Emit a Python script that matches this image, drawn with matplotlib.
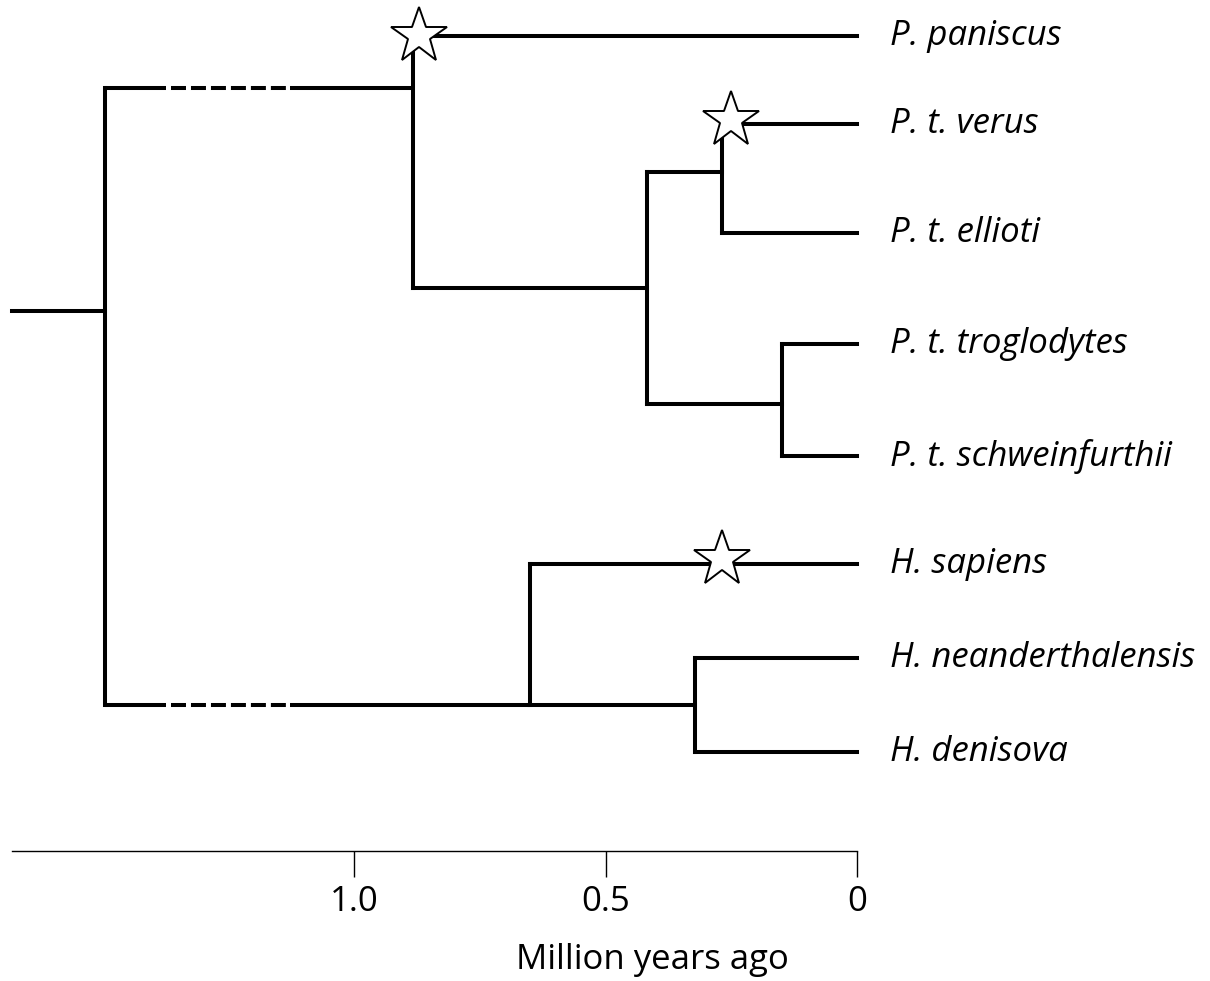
import matplotlib
matplotlib.use('Agg')
import matplotlib.pyplot as plt

# tips (top to bottom), y in picture rows
tip_names = ['P. paniscus', 'P. t. verus', 'P. t. ellioti', 'P. t. troglodytes',
             'P. t. schweinfurthii', 'H. sapiens', 'H. neanderthalensis', 'H. denisova']
tip_y = [36, 124, 233, 344, 456, 564, 658, 752]

# internal nodes: age in million years, y where it hangs from its parent
node_names = ['root', 'pan', 'ptrog', 'verus_ellioti', 'trog_schw', 'homo', 'neand_deni']
node_age = [1.495, 0.883, 0.417, 0.268, 0.149, 0.650, 0.322]
node_y = [311, 88, 288, 172, 404, 705, 705]

# parent -> children
children = {
    'root': ['pan', 'homo'],
    'pan': ['P. paniscus', 'ptrog'],
    'ptrog': ['verus_ellioti', 'trog_schw'],
    'verus_ellioti': ['P. t. verus', 'P. t. ellioti'],
    'trog_schw': ['P. t. troglodytes', 'P. t. schweinfurthii'],
    'homo': ['H. sapiens', 'neand_deni'],
    'neand_deni': ['H. neanderthalensis', 'H. denisova'],
}

root_stem_start = 1.68
# uncertain part of the two deep branches: solid end, dashes, solid restart
dash_solid_end = 1.374
dashed_span = (1.364, 1.135)
dash_solid_restart = 1.127

# stars: (age, y)
star_age = [0.871, 0.250, 0.268]
star_y = [36, 120, 559]

tick_values = [1.0, 0.5, 0]
tick_labels = ['1.0', '0.5', '0']

LW = 2.9
FONT = 'Open Sans'

pos = {}
for n, a, y in zip(node_names, node_age, node_y):
    pos[n] = (a, y)
for n, y in zip(tip_names, tip_y):
    pos[n] = (0.0, y)

fig = plt.figure(figsize=(12.1, 9.81), dpi=100)
ax = fig.add_axes([0, 0, 1, 1])
ax.set_xlim(857 / 503, -(1210 - 857) / 503)
ax.set_ylim(981, 0)
ax.axis('off')


def hline(y, x0, x1):
    ax.plot([x0, x1], [y, y], color='black', lw=LW,
            solid_capstyle='projecting', zorder=2)


# root stem
hline(pos['root'][1], root_stem_start, pos['root'][0])

for parent, kids in children.items():
    pa, _ = pos[parent]
    ys = [pos[k][1] for k in kids]
    ax.plot([pa, pa], [min(ys), max(ys)], color='black', lw=LW,
            solid_capstyle='projecting', zorder=2)
    for k in kids:
        ka, ky = pos[k]
        if parent == 'root':
            ax.plot([pa, dash_solid_end], [ky, ky], color='black', lw=LW,
                    solid_capstyle='butt', zorder=2)
            ax.plot([dashed_span[0], dashed_span[1]], [ky, ky], color='black',
                    lw=LW, dashes=(3.72, 1.24), dash_capstyle='butt', zorder=2)
            ax.plot([dash_solid_restart, ka], [ky, ky], color='black', lw=LW,
                    solid_capstyle='butt', zorder=2)
        else:
            hline(ky, pa, ka)

ax.plot(star_age, star_y, ls='none', marker='*', ms=42, mfc='white',
        mec='black', mew=1.4, zorder=3)

for name, y in zip(tip_names, tip_y):
    ax.text(-0.065, y, name, fontsize=25, fontstyle='italic', family=FONT,
            va='center', ha='left')

# time scale
ax2 = fig.add_axes([12 / 1210, 1 - 852 / 981, 845 / 1210, 0.001])
ax2.set_xlim(root_stem_start, 0)
for s in ['left', 'right', 'bottom']:
    ax2.spines[s].set_visible(False)
ax2.spines['top'].set_linewidth(1.0)
ax2.xaxis.set_ticks_position('top')
ax2.set_xticks(tick_values)
ax2.set_xticklabels(tick_labels)
ax2.tick_params(axis='x', direction='in', length=19, width=1.0,
                labeltop=False, labelbottom=True, labelsize=25, pad=24)
for lbl in ax2.get_xticklabels():
    lbl.set_family(FONT)
ax2.set_yticks([])

fig.text(652 / 1210, 1 - 960 / 981, 'Million years ago', fontsize=25,
         family=FONT, ha='center', va='center')

fig.savefig('out.png', dpi=100, facecolor='white')
